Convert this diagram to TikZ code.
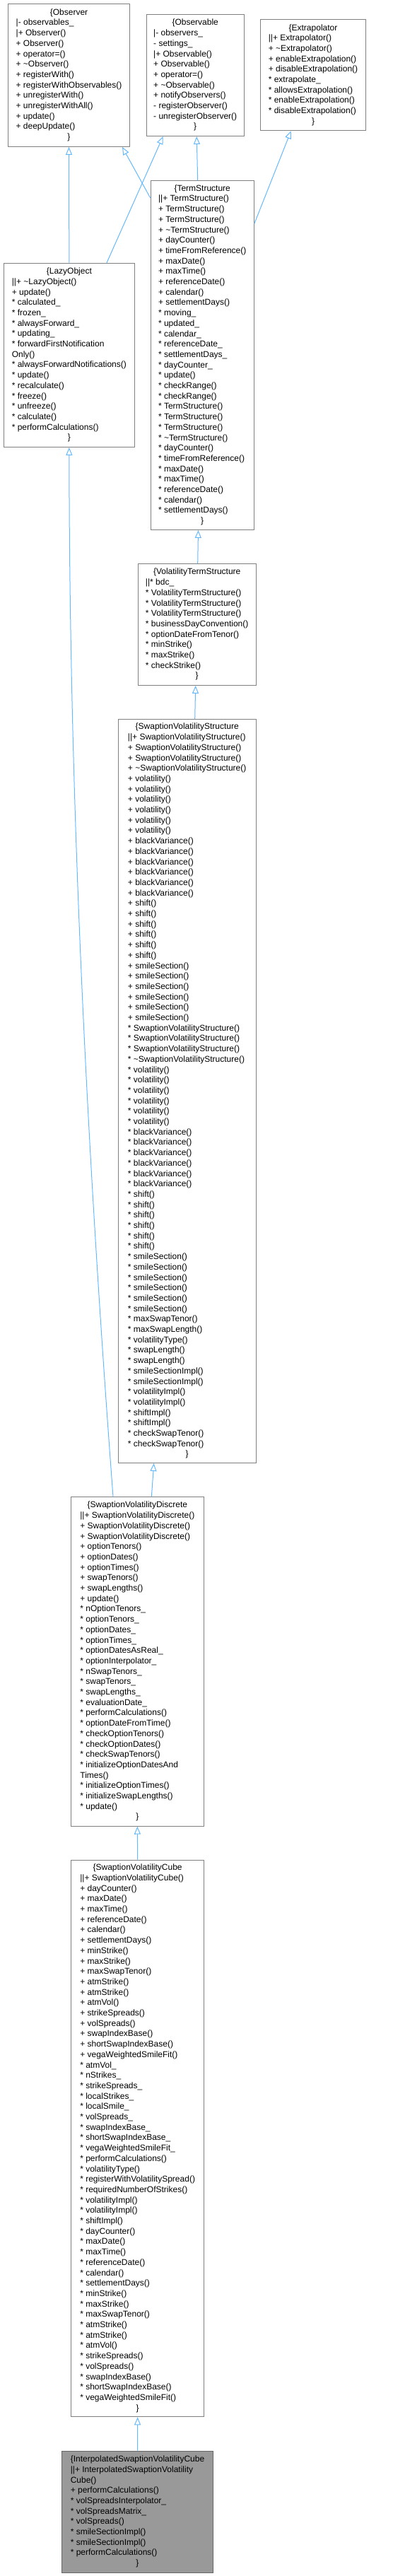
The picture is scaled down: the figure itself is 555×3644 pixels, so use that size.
\documentclass[tikz,border=0pt]{standalone}
\usepackage{fontspec}
\setmainfont{Liberation Sans}
\usepackage{tikz}
\usetikzlibrary{arrows.meta}
\definecolor{edgeBlue}{RGB}{99,184,255}
\definecolor{boxGrey}{RGB}{128,128,128}
\definecolor{curGrey}{RGB}{153,153,153}
\definecolor{curEdge}{RGB}{102,102,102}
\newcommand{\members}[1]{\begin{tabular}{@{}l@{}}#1\end{tabular}}
\newcommand{\hd}[1]{\multicolumn{1}{@{}c@{}}{#1}}
\newcommand{\tl}{\textasciitilde}

\begin{document}
\begin{tikzpicture}[
  x=1pt, y=-1pt,
  cls/.style={rectangle, draw=boxGrey, fill=white, line width=1pt, anchor=north west,
              inner sep=0pt, font=\fontsize{12}{14.7}\selectfont},
  cur/.style={cls, draw=curEdge, fill=curGrey},
  inh/.style={-{Triangle[open, length=11pt, width=9pt]}, line width=1pt, color=edgeBlue}
]
  \useasboundingbox (0,0) rectangle (555,3644);

  \node[cls, minimum width=172pt, minimum height=202pt] (observer) at (11,5) {\members{%
    \hd{\{Observer}\\ |- observables\_\\ |+ Observer()\\ + Observer()\\ + operator=()\\
    + \tl Observer()\\ + registerWith()\\ + registerWithObservables()\\ + unregisterWith()\\
    + unregisterWithAll()\\ + update()\\ + deepUpdate()\\ \hd{\}}}};

  \node[cls, minimum width=138pt, minimum height=172pt] (observable) at (206.7,20) {\members{%
    \hd{\{Observable}\\ |- observers\_\\ - settings\_\\ |+ Observable()\\ + Observable()\\
    + operator=()\\ + \tl Observable()\\ + notifyObservers()\\ - registerObserver()\\
    - unregisterObserver()\\ \hd{\}}}};

  \node[cls, minimum width=149.6pt, minimum height=157pt] (extrap) at (367.7,27.3) {\members{%
    \hd{\{Extrapolator}\\ ||+ Extrapolator()\\ + \tl Extrapolator()\\ + enableExtrapolation()\\
    + disableExtrapolation()\\ {*} extrapolate\_\\ {*} allowsExtrapolation()\\
    {*} enableExtrapolation()\\ {*} disableExtrapolation()\\ \hd{\}}}};

  \node[cls, minimum width=146pt, minimum height=494pt] (ts) at (212.7,255) {\members{%
    \hd{\{TermStructure}\\ ||+ TermStructure()\\ + TermStructure()\\ + TermStructure()\\
    + \tl TermStructure()\\ + dayCounter()\\ + timeFromReference()\\ + maxDate()\\
    + maxTime()\\ + referenceDate()\\ + calendar()\\ + settlementDays()\\ {*} moving\_\\
    {*} updated\_\\ {*} calendar\_\\ {*} referenceDate\_\\ {*} settlementDays\_\\ {*} dayCounter\_\\
    {*} update()\\ {*} checkRange()\\ {*} checkRange()\\ {*} TermStructure()\\ {*} TermStructure()\\
    {*} TermStructure()\\ {*} \tl TermStructure()\\ {*} dayCounter()\\ {*} timeFromReference()\\
    {*} maxDate()\\ {*} maxTime()\\ {*} referenceDate()\\ {*} calendar()\\ {*} settlementDays()\\
    \hd{\}}}};

  \node[cls, minimum width=185.3pt, minimum height=260.3pt] (lazy) at (4.7,371.7) {\members{%
    \hd{\{LazyObject}\\ ||+ \tl LazyObject()\\ + update()\\ {*} calculated\_\\ {*} frozen\_\\
    {*} alwaysForward\_\\ {*} updating\_\\ {*} forwardFirstNotification\\ Only()\\
    {*} alwaysForwardNotifications()\\ {*} update()\\ {*} recalculate()\\ {*} freeze()\\
    {*} unfreeze()\\ {*} calculate()\\ {*} performCalculations()\\ \hd{\}}}};

  \node[cls, minimum width=167pt, minimum height=172pt] (vts) at (194.7,797) {\members{%
    \hd{\{VolatilityTermStructure}\\ ||* bdc\_\\ {*} VolatilityTermStructure()\\
    {*} VolatilityTermStructure()\\ {*} VolatilityTermStructure()\\ {*} businessDayConvention()\\
    {*} optionDateFromTenor()\\ {*} minStrike()\\ {*} maxStrike()\\ {*} checkStrike()\\ \hd{\}}}};

  \node[cls, minimum width=195pt, minimum height=1052pt] (svs) at (166.7,1017) {\members{%
    \hd{\{SwaptionVolatilityStructure}\\ ||+ SwaptionVolatilityStructure()\\
    + SwaptionVolatilityStructure()\\ + SwaptionVolatilityStructure()\\
    + \tl SwaptionVolatilityStructure()\\
    + volatility()\\ + volatility()\\ + volatility()\\ + volatility()\\ + volatility()\\ + volatility()\\
    + blackVariance()\\ + blackVariance()\\ + blackVariance()\\ + blackVariance()\\
    + blackVariance()\\ + blackVariance()\\
    + shift()\\ + shift()\\ + shift()\\ + shift()\\ + shift()\\ + shift()\\
    + smileSection()\\ + smileSection()\\ + smileSection()\\ + smileSection()\\
    + smileSection()\\ + smileSection()\\
    {*} SwaptionVolatilityStructure()\\ {*} SwaptionVolatilityStructure()\\
    {*} SwaptionVolatilityStructure()\\ {*} \tl SwaptionVolatilityStructure()\\
    {*} volatility()\\ {*} volatility()\\ {*} volatility()\\ {*} volatility()\\ {*} volatility()\\ {*} volatility()\\
    {*} blackVariance()\\ {*} blackVariance()\\ {*} blackVariance()\\ {*} blackVariance()\\
    {*} blackVariance()\\ {*} blackVariance()\\
    {*} shift()\\ {*} shift()\\ {*} shift()\\ {*} shift()\\ {*} shift()\\ {*} shift()\\
    {*} smileSection()\\ {*} smileSection()\\ {*} smileSection()\\ {*} smileSection()\\
    {*} smileSection()\\ {*} smileSection()\\
    {*} maxSwapTenor()\\ {*} maxSwapLength()\\ {*} volatilityType()\\ {*} swapLength()\\
    {*} swapLength()\\ {*} smileSectionImpl()\\ {*} smileSectionImpl()\\ {*} volatilityImpl()\\
    {*} volatilityImpl()\\ {*} shiftImpl()\\ {*} shiftImpl()\\ {*} checkSwapTenor()\\
    {*} checkSwapTenor()\\ \hd{\}}}};

  \node[cls, minimum width=187.7pt, minimum height=465.4pt] (svd) at (100,2117.3) {\members{%
    \hd{\{SwaptionVolatilityDiscrete}\\ ||+ SwaptionVolatilityDiscrete()\\
    + SwaptionVolatilityDiscrete()\\ + SwaptionVolatilityDiscrete()\\ + optionTenors()\\
    + optionDates()\\ + optionTimes()\\ + swapTenors()\\ + swapLengths()\\ + update()\\
    {*} nOptionTenors\_\\ {*} optionTenors\_\\ {*} optionDates\_\\ {*} optionTimes\_\\
    {*} optionDatesAsReal\_\\ {*} optionInterpolator\_\\ {*} nSwapTenors\_\\ {*} swapTenors\_\\
    {*} swapLengths\_\\ {*} evaluationDate\_\\ {*} performCalculations()\\ {*} optionDateFromTime()\\
    {*} checkOptionTenors()\\ {*} checkOptionDates()\\ {*} checkSwapTenors()\\
    {*} initializeOptionDatesAnd\\ Times()\\ {*} initializeOptionTimes()\\
    {*} initializeSwapLengths()\\ {*} update()\\ \hd{\}}}};

  \node[cls, minimum width=188.3pt, minimum height=787.6pt] (svc) at (100,2630.7) {\members{%
    \hd{\{SwaptionVolatilityCube}\\ ||+ SwaptionVolatilityCube()\\ + dayCounter()\\
    + maxDate()\\ + maxTime()\\ + referenceDate()\\ + calendar()\\ + settlementDays()\\
    + minStrike()\\ + maxStrike()\\ + maxSwapTenor()\\ + atmStrike()\\ + atmStrike()\\
    + atmVol()\\ + strikeSpreads()\\ + volSpreads()\\ + swapIndexBase()\\
    + shortSwapIndexBase()\\ + vegaWeightedSmileFit()\\ {*} atmVol\_\\ {*} nStrikes\_\\
    {*} strikeSpreads\_\\ {*} localStrikes\_\\ {*} localSmile\_\\ {*} volSpreads\_\\
    {*} swapIndexBase\_\\ {*} shortSwapIndexBase\_\\ {*} vegaWeightedSmileFit\_\\
    {*} performCalculations()\\ {*} volatilityType()\\ {*} registerWithVolatilitySpread()\\
    {*} requiredNumberOfStrikes()\\ {*} volatilityImpl()\\ {*} volatilityImpl()\\ {*} shiftImpl()\\
    {*} dayCounter()\\ {*} maxDate()\\ {*} maxTime()\\ {*} referenceDate()\\ {*} calendar()\\
    {*} settlementDays()\\ {*} minStrike()\\ {*} maxStrike()\\ {*} maxSwapTenor()\\ {*} atmStrike()\\
    {*} atmStrike()\\ {*} atmVol()\\ {*} strikeSpreads()\\ {*} volSpreads()\\ {*} swapIndexBase()\\
    {*} shortSwapIndexBase()\\ {*} vegaWeightedSmileFit()\\ \hd{\}}}};

  \node[cur, minimum width=214pt, minimum height=172pt] (isvc) at (87,3466.7) {\members{%
    \hd{\{InterpolatedSwaptionVolatilityCube}\\ ||+ InterpolatedSwaptionVolatility\\
    Cube()\\ + performCalculations()\\ {*} volSpreadsInterpolator\_\\ {*} volSpreadsMatrix\_\\
    {*} volSpreads()\\ {*} smileSectionImpl()\\ {*} smileSectionImpl()\\ {*} performCalculations()\\
    \hd{\}}}};

  \draw[inh] (lazy.north) -- (observer.south);
  \draw[inh] ([yshift=-25pt]ts.north west) -- ([xshift=-11pt]observer.south east);
  \draw[inh] ([xshift=-40pt]lazy.north east) -- ([xshift=24pt]observable.south west);
  \draw[inh] ([xshift=-6.5pt]ts.north) -- ([xshift=2pt]observable.south);
  \draw[inh] ([yshift=-61.7pt]ts.north east) -- ([xshift=44pt]extrap.south west);
  \draw[inh] ([xshift=1pt]vts.north) -- ([xshift=-5.7pt]ts.south);
  \draw[inh] ([xshift=11pt]svs.north) -- ([xshift=-2pt]vts.south);
  \draw[inh] ([xshift=20pt]svd.north) -- ([xshift=-47pt]svs.south);
  \draw[inh] ([xshift=60pt]svd.north west) .. controls (122.7,1622) and (98,1127) .. (lazy.south);
  \draw[inh] (svc.north) -- (svd.south);
  \draw[inh] (isvc.north) -- (svc.south);
\end{tikzpicture}
\end{document}
